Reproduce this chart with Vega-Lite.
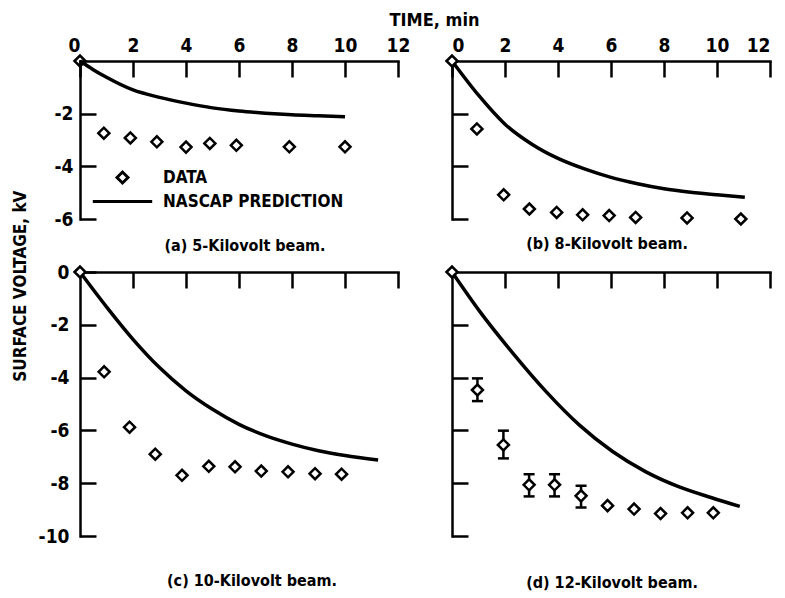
{
  "$schema": "https://vega.github.io/schema/vega-lite/v6.json",
  "background": "white",
  "padding": {"left": 12, "top": 11, "right": 5, "bottom": 5},
  "config": {
    "font": "'DejaVu Sans Condensed', 'DejaVu Sans', sans-serif",
    "view": {"stroke": null},
    "axis": {
      "grid": false,
      "domainColor": "black",
      "domainWidth": 2.5,
      "domainCap": "square",
      "tickColor": "black",
      "tickWidth": 2.5,
      "tickSize": -16,
      "labelFontSize": 19,
      "labelFontWeight": "bold",
      "labelColor": "black",
      "labelPadding": 22,
      "titleColor": "black",
      "labelExpr": "'' + datum.value"
    },
    "title": {"color": "black", "fontWeight": "bold"}
  },
  "title": {
    "text": "SURFACE VOLTAGE, kV",
    "orient": "left",
    "anchor": "middle",
    "fontSize": 17,
    "offset": 8,
    "dx": 15
  },
  "datasets": {
    "points": [
      {"panel": "a", "series": "DATA", "t": 0, "v": 0},
      {"panel": "a", "series": "DATA", "t": 0.9, "v": -2.74},
      {"panel": "a", "series": "DATA", "t": 1.9, "v": -2.92},
      {"panel": "a", "series": "DATA", "t": 2.9, "v": -3.07},
      {"panel": "a", "series": "DATA", "t": 4.0, "v": -3.27},
      {"panel": "a", "series": "DATA", "t": 4.9, "v": -3.13},
      {"panel": "a", "series": "DATA", "t": 5.9, "v": -3.2},
      {"panel": "a", "series": "DATA", "t": 7.9, "v": -3.26},
      {"panel": "a", "series": "DATA", "t": 10.0, "v": -3.26},
      {"panel": "b", "series": "DATA", "t": 0, "v": 0},
      {"panel": "b", "series": "DATA", "t": 0.94, "v": -2.58},
      {"panel": "b", "series": "DATA", "t": 1.95, "v": -5.08},
      {"panel": "b", "series": "DATA", "t": 2.92, "v": -5.62},
      {"panel": "b", "series": "DATA", "t": 3.95, "v": -5.75},
      {"panel": "b", "series": "DATA", "t": 4.93, "v": -5.84},
      {"panel": "b", "series": "DATA", "t": 5.93, "v": -5.87},
      {"panel": "b", "series": "DATA", "t": 6.93, "v": -5.94},
      {"panel": "b", "series": "DATA", "t": 8.87, "v": -5.96},
      {"panel": "b", "series": "DATA", "t": 10.9, "v": -6.0},
      {"panel": "c", "series": "DATA", "t": 0, "v": 0},
      {"panel": "c", "series": "DATA", "t": 0.91, "v": -3.78},
      {"panel": "c", "series": "DATA", "t": 1.87, "v": -5.88},
      {"panel": "c", "series": "DATA", "t": 2.84, "v": -6.9},
      {"panel": "c", "series": "DATA", "t": 3.85, "v": -7.7},
      {"panel": "c", "series": "DATA", "t": 4.86, "v": -7.36},
      {"panel": "c", "series": "DATA", "t": 5.85, "v": -7.38},
      {"panel": "c", "series": "DATA", "t": 6.84, "v": -7.54},
      {"panel": "c", "series": "DATA", "t": 7.85, "v": -7.57},
      {"panel": "c", "series": "DATA", "t": 8.87, "v": -7.64},
      {"panel": "c", "series": "DATA", "t": 9.87, "v": -7.66},
      {"panel": "d", "series": "DATA", "t": 0, "v": 0},
      {"panel": "d", "series": "DATA", "t": 0.96, "v": -4.47},
      {"panel": "d", "series": "DATA", "t": 1.94, "v": -6.55},
      {"panel": "d", "series": "DATA", "t": 2.91, "v": -8.06},
      {"panel": "d", "series": "DATA", "t": 3.87, "v": -8.06},
      {"panel": "d", "series": "DATA", "t": 4.87, "v": -8.48},
      {"panel": "d", "series": "DATA", "t": 5.87, "v": -8.85},
      {"panel": "d", "series": "DATA", "t": 6.87, "v": -8.98},
      {"panel": "d", "series": "DATA", "t": 7.87, "v": -9.15},
      {"panel": "d", "series": "DATA", "t": 8.89, "v": -9.12},
      {"panel": "d", "series": "DATA", "t": 9.86, "v": -9.12}
    ],
    "errs": [
      {"t": 0.96, "lo": -4.03, "hi": -4.89},
      {"t": 1.94, "lo": -6.01, "hi": -7.06},
      {"t": 2.91, "lo": -7.66, "hi": -8.5},
      {"t": 3.87, "lo": -7.66, "hi": -8.5},
      {"t": 4.87, "lo": -8.1, "hi": -8.92}
    ],
    "model": [
      {"panel": "a", "t": 0, "v": 0},
      {"panel": "a", "t": 0.5, "v": -0.33},
      {"panel": "a", "t": 1, "v": -0.62},
      {"panel": "a", "t": 2, "v": -1.1},
      {"panel": "a", "t": 3, "v": -1.38},
      {"panel": "a", "t": 4, "v": -1.6},
      {"panel": "a", "t": 5, "v": -1.78},
      {"panel": "a", "t": 6, "v": -1.9},
      {"panel": "a", "t": 7, "v": -1.98},
      {"panel": "a", "t": 8, "v": -2.04},
      {"panel": "a", "t": 9, "v": -2.08},
      {"panel": "a", "t": 10, "v": -2.12},
      {"panel": "b", "t": 0, "v": 0},
      {"panel": "b", "t": 1, "v": -1.3},
      {"panel": "b", "t": 2, "v": -2.4},
      {"panel": "b", "t": 3, "v": -3.15},
      {"panel": "b", "t": 4, "v": -3.7},
      {"panel": "b", "t": 5, "v": -4.1},
      {"panel": "b", "t": 6, "v": -4.42},
      {"panel": "b", "t": 7, "v": -4.66},
      {"panel": "b", "t": 8, "v": -4.85},
      {"panel": "b", "t": 9, "v": -4.98},
      {"panel": "b", "t": 10, "v": -5.08},
      {"panel": "b", "t": 11.05, "v": -5.17},
      {"panel": "c", "t": 0, "v": 0},
      {"panel": "c", "t": 1, "v": -1.32},
      {"panel": "c", "t": 2, "v": -2.55},
      {"panel": "c", "t": 3, "v": -3.62},
      {"panel": "c", "t": 4, "v": -4.5},
      {"panel": "c", "t": 5, "v": -5.2},
      {"panel": "c", "t": 6, "v": -5.77},
      {"panel": "c", "t": 7, "v": -6.2},
      {"panel": "c", "t": 8, "v": -6.52},
      {"panel": "c", "t": 9, "v": -6.77},
      {"panel": "c", "t": 10, "v": -6.95},
      {"panel": "c", "t": 11.25, "v": -7.12},
      {"panel": "d", "t": 0, "v": 0},
      {"panel": "d", "t": 1.06, "v": -1.51},
      {"panel": "d", "t": 2.31, "v": -3.09},
      {"panel": "d", "t": 3.56, "v": -4.54},
      {"panel": "d", "t": 4.81, "v": -5.8},
      {"panel": "d", "t": 6.06, "v": -6.8},
      {"panel": "d", "t": 7.3, "v": -7.56},
      {"panel": "d", "t": 8.55, "v": -8.13},
      {"panel": "d", "t": 9.8, "v": -8.55},
      {"panel": "d", "t": 10.86, "v": -8.88}
    ]
  },
  "columns": 2,
  "bounds": "flush",
  "spacing": {"row": 53, "column": 54},
  "resolve": {"scale": {"shape": "independent"}, "legend": {"shape": "independent"}},
  "concat": [
    {
      "width": 318,
      "height": 158,
      "title": {"text": "(a) 5-Kilovolt beam.", "orient": "bottom", "offset": 9, "fontSize": 16, "dx": 6},
      "layer": [
        {
          "data": {"name": "model"},
          "transform": [{"filter": "datum.panel == 'a'"}],
          "mark": {"type": "line", "color": "black", "strokeWidth": 3.5, "interpolate": "monotone"},
          "encoding": {
            "x": {"field": "t", "type": "quantitative", "scale": {"domain": [0, 12], "nice": false, "zero": false},
              "axis": {"orient": "top", "values": [0, 2, 4, 6, 8, 10, 12], "title": "TIME, min",
                "titleX": 354, "titleY": -41, "titleFontSize": 18, "titleFontWeight": "bold",
                "titleBaseline": "middle", "titleAlign": "center",
                "labelAlign": {"condition": {"test": "datum.value === 0", "value": "right"}, "value": "center"}}},
            "y": {"field": "v", "type": "quantitative", "scale": {"domain": [-6, 0], "nice": false},
              "axis": {"orient": "left", "values": [-2, -4, -6], "title": null, "labelPadding": 23}}
          }
        },
        {
          "data": {"name": "points"},
          "transform": [{"filter": "datum.panel == 'a'"}],
          "mark": {"type": "point", "filled": false, "color": "black", "strokeWidth": 2.5, "size": 121, "opacity": 1},
          "encoding": {
            "x": {"field": "t", "type": "quantitative"},
            "y": {"field": "v", "type": "quantitative"},
            "shape": {"field": "series", "type": "nominal",
              "scale": {"domain": ["DATA", "NASCAP PREDICTION"], "range": ["diamond", "M-5.4,0H5.4"]},
              "legend": {"orient": "none", "legendX": 34, "legendY": 108, "title": null,
                "symbolSize": 121, "symbolStrokeWidth": 3, "symbolStrokeColor": "black",
                "labelFontSize": 17, "labelFontWeight": "bold", "labelColor": "black", "labelOffset": 32,
                "labelLimit": 0, "rowPadding": 3}}
          }
        }
      ]
    },
    {
      "width": 318,
      "height": 158,
      "title": {"text": "(b) 8-Kilovolt beam.", "orient": "bottom", "offset": 6, "fontSize": 16, "dx": -4},
      "layer": [
        {
          "data": {"name": "model"},
          "transform": [{"filter": "datum.panel == 'b'"}],
          "mark": {"type": "line", "color": "black", "strokeWidth": 3.5, "interpolate": "monotone"},
          "encoding": {
            "x": {"field": "t", "type": "quantitative", "scale": {"domain": [0, 12], "nice": false, "zero": false},
              "axis": {"orient": "top", "values": [0, 2, 4, 6, 8, 10, 12], "title": null}},
            "y": {"field": "v", "type": "quantitative", "scale": {"domain": [-6, 0], "nice": false},
              "axis": {"orient": "left", "values": [-2, -4, -6], "title": null, "labels": false}}
          }
        },
        {
          "data": {"name": "points"},
          "transform": [{"filter": "datum.panel == 'b'"}],
          "mark": {"type": "point", "shape": "diamond", "fill": "white", "stroke": "black", "strokeWidth": 2.5, "size": 121, "opacity": 1},
          "encoding": {
            "x": {"field": "t", "type": "quantitative"},
            "y": {"field": "v", "type": "quantitative"}
          }
        }
      ]
    },
    {
      "width": 318,
      "height": 264,
      "title": {"text": "(c) 10-Kilovolt beam.", "orient": "bottom", "offset": 27, "fontSize": 16, "dx": 13},
      "layer": [
        {
          "data": {"name": "model"},
          "transform": [{"filter": "datum.panel == 'c'"}],
          "mark": {"type": "line", "color": "black", "strokeWidth": 3.5, "interpolate": "monotone"},
          "encoding": {
            "x": {"field": "t", "type": "quantitative", "scale": {"domain": [0, 12], "nice": false, "zero": false},
              "axis": {"orient": "top", "values": [2, 4, 6, 8, 10, 12], "title": null, "labels": false}},
            "y": {"field": "v", "type": "quantitative", "scale": {"domain": [-10, 0], "nice": false},
              "axis": {"orient": "left", "values": [0, -2, -4, -6, -8, -10], "title": null, "labelPadding": 27}}
          }
        },
        {
          "data": {"name": "points"},
          "transform": [{"filter": "datum.panel == 'c'"}],
          "mark": {"type": "point", "shape": "diamond", "fill": "white", "stroke": "black", "strokeWidth": 2.5, "size": 121, "opacity": 1},
          "encoding": {
            "x": {"field": "t", "type": "quantitative"},
            "y": {"field": "v", "type": "quantitative"}
          }
        }
      ]
    },
    {
      "width": 318,
      "height": 264,
      "title": {"text": "(d) 12-Kilovolt beam.", "orient": "bottom", "offset": 38, "fontSize": 16, "dx": 1},
      "layer": [
        {
          "data": {"name": "model"},
          "transform": [{"filter": "datum.panel == 'd'"}],
          "mark": {"type": "line", "color": "black", "strokeWidth": 3.5, "interpolate": "monotone"},
          "encoding": {
            "x": {"field": "t", "type": "quantitative", "scale": {"domain": [0, 12], "nice": false, "zero": false},
              "axis": {"orient": "top", "values": [2, 4, 6, 8, 10, 12], "title": null, "labels": false}},
            "y": {"field": "v", "type": "quantitative", "scale": {"domain": [-10, 0], "nice": false},
              "axis": {"orient": "left", "values": [-2, -4, -6, -8, -10], "title": null, "labels": false}}
          }
        },
        {
          "data": {"name": "errs"},
          "mark": {"type": "rule", "color": "black", "strokeWidth": 2.5},
          "encoding": {
            "x": {"field": "t", "type": "quantitative"},
            "y": {"field": "lo", "type": "quantitative"},
            "y2": {"field": "hi"}
          }
        },
        {
          "data": {"name": "errs"},
          "mark": {"type": "tick", "orient": "horizontal", "color": "black", "size": 11, "thickness": 2.5, "opacity": 1},
          "encoding": {
            "x": {"field": "t", "type": "quantitative"},
            "y": {"field": "lo", "type": "quantitative"}
          }
        },
        {
          "data": {"name": "errs"},
          "mark": {"type": "tick", "orient": "horizontal", "color": "black", "size": 11, "thickness": 2.5, "opacity": 1},
          "encoding": {
            "x": {"field": "t", "type": "quantitative"},
            "y": {"field": "hi", "type": "quantitative"}
          }
        },
        {
          "data": {"name": "points"},
          "transform": [{"filter": "datum.panel == 'd'"}],
          "mark": {"type": "point", "shape": "diamond", "fill": "white", "stroke": "black", "strokeWidth": 2.5, "size": 121, "opacity": 1},
          "encoding": {
            "x": {"field": "t", "type": "quantitative"},
            "y": {"field": "v", "type": "quantitative"}
          }
        }
      ]
    }
  ]
}
